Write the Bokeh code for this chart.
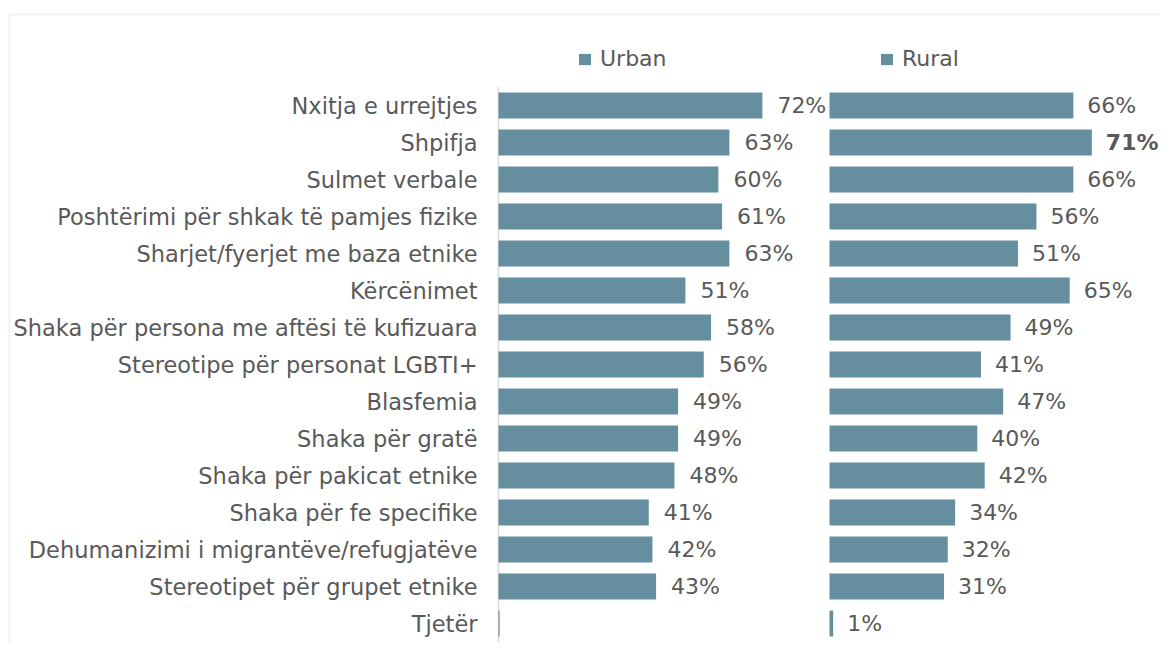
from bokeh.plotting import figure
from bokeh.models import Range1d, ColumnDataSource, Legend, LegendItem, BoxAnnotation
from bokeh.core.properties import value
from bokeh.embed import file_html
from bokeh.resources import INLINE

categories = [
    "Nxitja e urrejtjes",
    "Shpifja",
    "Sulmet verbale",
    "Poshtërimi për shkak të pamjes fizike",
    "Sharjet/fyerjet me baza etnike",
    "Kërcënimet",
    "Shaka për persona me aftësi të kufizuara",
    "Stereotipe për personat LGBTI+",
    "Blasfemia",
    "Shaka për gratë",
    "Shaka për pakicat etnike",
    "Shaka për fe specifike",
    "Dehumanizimi i migrantëve/refugjatëve",
    "Stereotipet për grupet etnike",
    "Tjetër",
]
urban = [72, 63, 60, 61, 63, 51, 58, 56, 49, 49, 48, 41, 42, 43, 0.3]
rural = [66, 71, 66, 56, 51, 65, 49, 41, 47, 40, 42, 34, 32, 31, 1]
series_names = ["Urban", "Rural"]

BAR = "#658E9E"
TXT = "#595959"
GRID = "#d9d9d9"
BORDER = "#d6d6d6"
FONT = "DejaVu Sans"
FS_CAT = "22.5px"
FS_VAL = "22px"

W, H = 1160, 644
U_PX = 3.665          # pixels per percentage point, urban panel
R_PX = 3.695          # pixels per percentage point, rural panel
URBAN0 = 498          # canvas x of urban zero
RURAL0 = 829          # canvas x of rural zero
PITCH = 37.0          # pixels per category row
ROW0 = 105            # canvas y of first row centre

n = len(categories)
ypos = list(range(n))  # row index, first category on top


def labels(vals):
    return [f"{round(v)}%" if v >= 0.5 else "" for v in vals]


src = ColumnDataSource(dict(
    y=ypos,
    cat=categories,
    urban=urban,
    rural=rural,
    ulab=labels(urban),
    rlab=labels(rural),
    rstyle=["bold" if v == max(rural) else "normal" for v in rural],
))

ytop = -ROW0 / PITCH
ybot = ytop + H / PITCH
ux0 = -URBAN0 / U_PX
rx0 = -RURAL0 / R_PX

p = figure(
    width=W, height=H,
    x_range=Range1d(ux0, ux0 + W / U_PX),
    y_range=Range1d(ybot, ytop),
    output_backend="svg", toolbar_location=None,
    x_axis_location=None, y_axis_location=None,
    min_border=0,
)
p.extra_x_ranges = {"rural": Range1d(rx0, rx0 + W / R_PX)}
p.outline_line_color = None
p.xgrid.visible = False
p.ygrid.visible = False

# chart border (only top and left edges fall inside the picture)
p.add_layout(BoxAnnotation(left=ux0 + 9 / U_PX, right=ux0 + (W + 50) / U_PX,
                           top=ytop + 14 / PITCH, bottom=ybot + 2,
                           fill_alpha=0, line_color=BORDER, line_width=2))

# category axis line
p.segment(x0=0, x1=0, y0=-0.5, y1=n - 0.5, line_color=GRID, line_width=1.5)

ru = p.hbar(y="y", left=0, right="urban", height=0.7, source=src, color=BAR, line_color=None)
rr = p.hbar(y="y", left=0, right="rural", height=0.7, source=src, color=BAR, line_color=None,
            x_range_name="rural")

# category labels
p.text(x=0, y="y", text="cat", source=src, x_offset=-21, text_baseline="middle",
       text_align="right", text_font=value(FONT), text_font_size=FS_CAT, text_color=TXT)

p.text(x="urban", y="y", text="ulab", source=src, x_offset=15, text_baseline="middle",
       text_align="left", text_font=value(FONT), text_font_size=FS_VAL, text_color=TXT)
p.text(x="rural", y="y", text="rlab", source=src, x_offset=14, text_baseline="middle",
       text_align="left", text_font=value(FONT), text_font_size=FS_VAL, text_color=TXT,
       text_font_style="rstyle", x_range_name="rural")

legend = Legend(
    items=[LegendItem(label=series_names[0], renderers=[ru]),
           LegendItem(label=series_names[1], renderers=[rr])],
    orientation="horizontal",
    location=(577, 573),
    glyph_width=15, glyph_height=14,
    label_standoff=8, label_width=279, spacing=0,
    padding=0, margin=0,
    border_line_color=None, background_fill_alpha=0,
    label_text_font=FONT, label_text_font_size=FS_VAL, label_text_color=TXT,
)
p.add_layout(legend, "center")

open("out.html", "w").write(file_html(p, INLINE))
